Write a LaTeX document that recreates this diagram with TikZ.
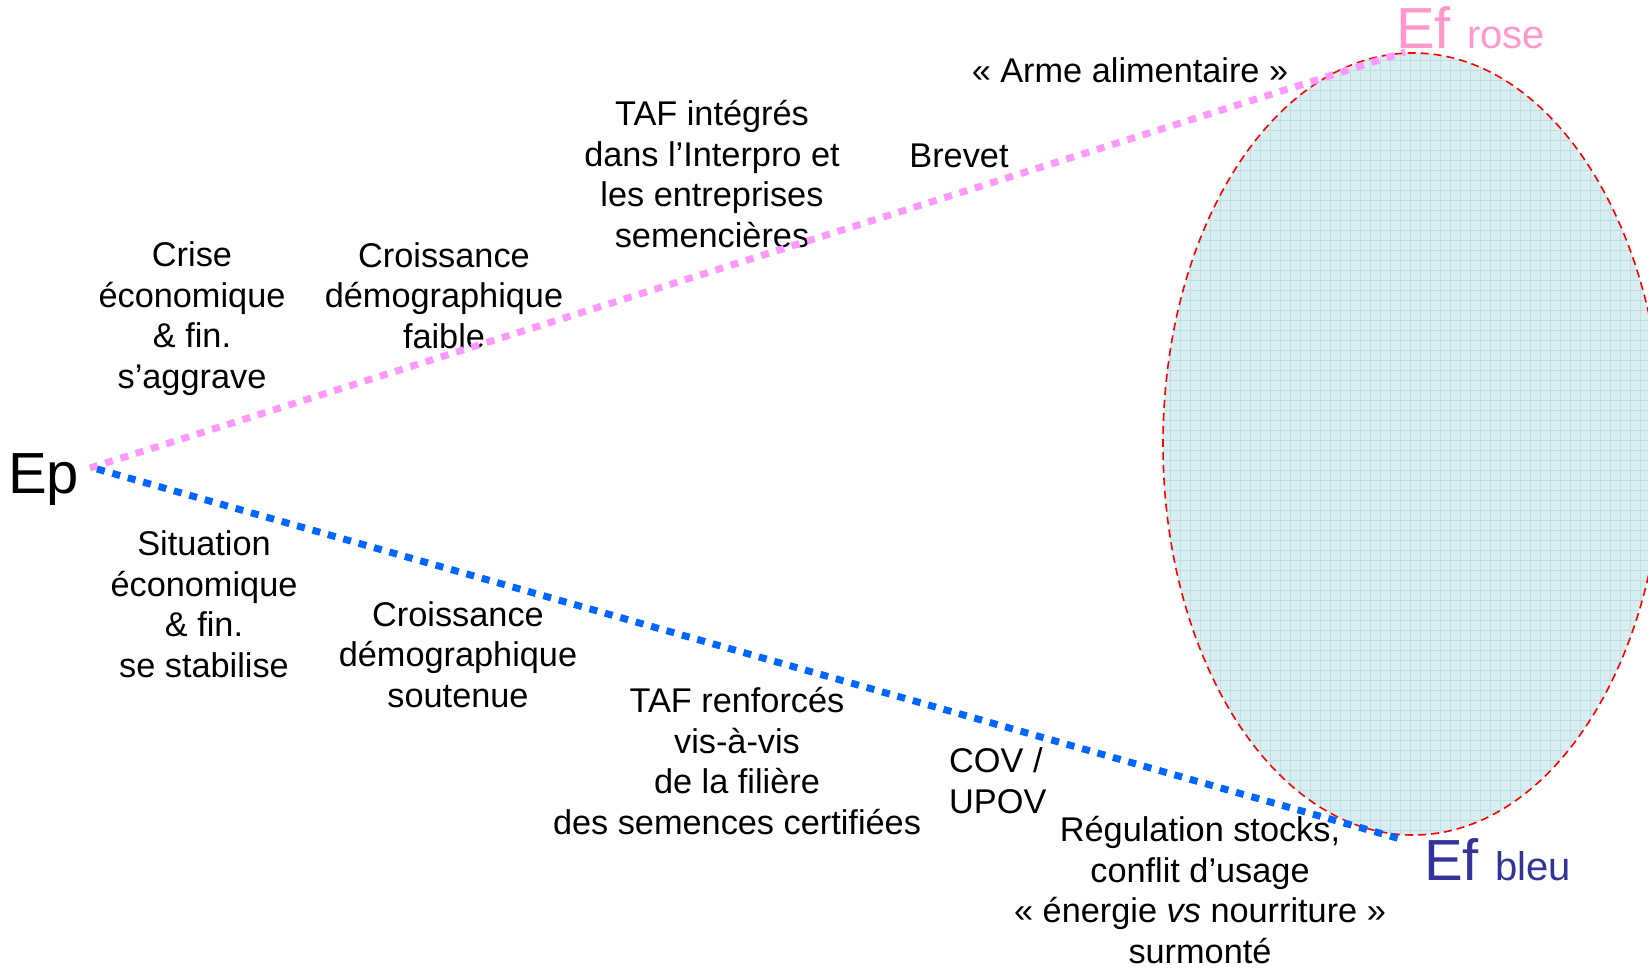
\documentclass[tikz,border=0pt]{standalone}
\usepackage{fontspec}
\setmainfont{Liberation Sans}
\definecolor{rosedot}{RGB}{255,153,255}
\definecolor{rosetext}{RGB}{255,153,204}
\definecolor{bleudot}{RGB}{0,102,255}
\definecolor{bleutext}{RGB}{51,51,153}
\definecolor{zonefill}{RGB}{217,238,241}
\definecolor{zonegrid}{RGB}{188,223,228}

\begin{document}
\begin{tikzpicture}[x=1pt, y=-1pt,
        lbl/.style={inner sep=0pt, anchor=base, align=center, font=\fontsize{34.3}{40.5}\selectfont},
        big/.style={inner sep=0pt, anchor=base west, font=\fontsize{58}{60}\selectfont},
        pointille/.style={line width=7pt, dash pattern=on 8pt off 8pt}]
            \useasboundingbox (0,0) rectangle (1648,969);

            % zone d'arrivee
            \fill[zonefill] (1413,444) ellipse [x radius=250pt, y radius=391pt];
            \begin{scope}
                \clip (1413,444) ellipse [x radius=250pt, y radius=391pt];
                \draw[zonegrid, line width=0.7pt, step=10pt] (1150,40) grid (1680,850);
            \end{scope}
            \draw[red, line width=1.6pt, dash pattern=on 8pt off 5pt] (1413,444) ellipse [x radius=250pt, y radius=391pt];

            % textes places par la ligne du bas
            \node[lbl] (Crise) at (192,388) {Crise\\économique\\\& fin.\\s’aggrave};
            \node[lbl] (DemoF) at (444,348) {Croissance\\démographique\\faible};
            \node[lbl] (TafI) at (712,247) {TAF intégrés\\dans l’Interpro et\\les entreprises\\semencières};
            \node[lbl] (Brevet) at (959,167) {Brevet};
            \node[lbl] (Arme) at (1130,82) {« Arme alimentaire »};

            \node[lbl] (Situ) at (204,677) {Situation\\économique\\\& fin.\\se stabilise};
            \node[lbl] (DemoS) at (458,707) {Croissance\\démographique\\soutenue};
            \node[lbl] (TafR) at (737,834) {TAF renforcés\\vis-à-vis\\de la filière\\des semences certifiées};
            \node[lbl, anchor=base west, align=left] (Cov) at (949,813) {COV /\\UPOV};
            \node[lbl] (Regul) at (1200,963) {Régulation stocks,\\conflit d’usage\\« énergie \textit{vs} nourriture »\\surmonté};

            \node[big] (Ep) at (8,493) {Ep};
            \node[big, text=rosetext] (EfR) at (1396,48) {Ef {\fontsize{40}{42}\selectfont rose}};
            \node[big, text=bleutext] (EfB) at (1424,880) {Ef {\fontsize{40}{42}\selectfont bleu}};

            \coordinate (R0) at (90,468);
            \coordinate (B0) at (97,469);
            \coordinate (R1) at (1405,52);
            \coordinate (B1) at (1404,840);

            \draw[pointille, rosedot] (R0) -- (R1);
            \draw[pointille, bleudot] (B0) -- (B1);
        \end{tikzpicture}
\end{document}
